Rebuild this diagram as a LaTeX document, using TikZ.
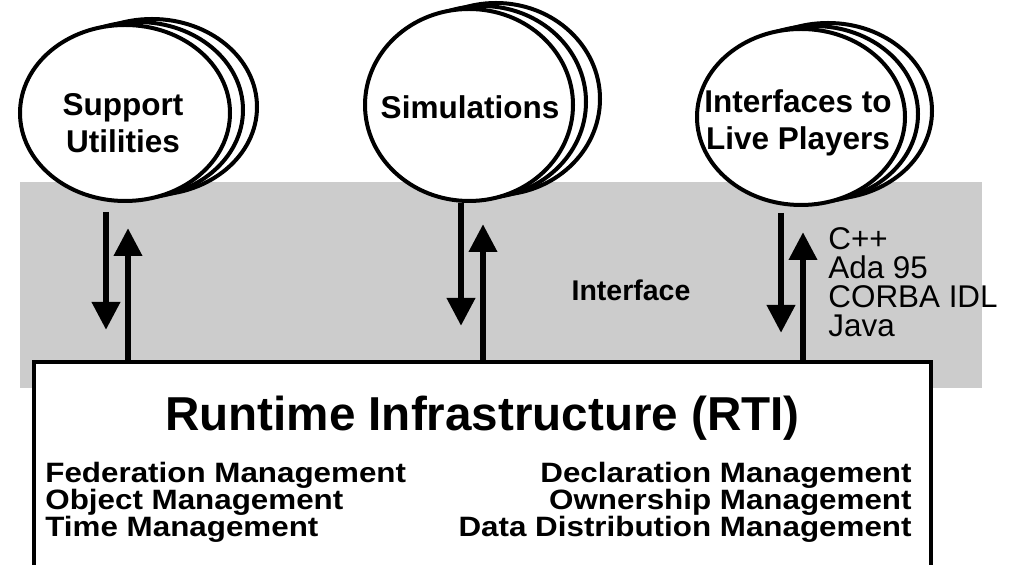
\documentclass[tikz,border=0pt]{standalone}
\usepackage{fontspec}
\setmainfont{Liberation Sans}
\newfontfamily\mgfont[FakeStretch=1.12]{Liberation Sans}
\usetikzlibrary{shapes.geometric,arrows.meta}
\definecolor{band}{HTML}{CCCCCC}

\begin{document}
\begin{tikzpicture}[x=0.5pt,y=-0.5pt,
  fed/.style={ellipse, draw, line width=2pt, fill=white, inner sep=0pt},
  lbl/.style={font=\fontsize{15.75}{18.5}\selectfont\bfseries, align=center, inner sep=0pt},
  flow/.style={line width=3.35pt, -{Triangle[width=13.5pt,length=14pt]}},
  mgmt/.style={font=\mgfont\fontsize{14}{17}\selectfont\bfseries, inner sep=0pt},
  lang/.style={font=\fontsize{15.7}{18}\selectfont, inner sep=0pt, anchor=base west}]
\useasboundingbox (0,0) rectangle (1012,565);
\clip (0,0) rectangle (1012,565);
% interface band
\fill[band] (20,182) rectangle (982,388);
\node[font=\fontsize{14.25}{17}\selectfont\bfseries, inner sep=0pt] (ifc) at (631,290) {Interface};
% federate stacks
\foreach \n/\x/\y/\w/\h in {su/125/113/105/88, sim/469/105/104/96, live/801/117/104/88} {
  \node[fed, minimum width=\w pt, minimum height=\h pt] (\n3) at (\x+27,\y-6) {};
  \node[fed, minimum width=\w pt, minimum height=\h pt] (\n2) at (\x+13,\y-3) {};
  \node[fed, minimum width=\w pt, minimum height=\h pt] (\n) at (\x,\y) {};
}
\node[lbl] (su-t) at (123,123) {Support\\Utilities};
\node[lbl] (sim-t) at (470,107) {Simulations};
\node[lbl] (live-t) at (798,123) {Interfaces to\\Live Players};
% RTI
\node[draw, line width=2pt, fill=white, minimum width=448.5pt, minimum height=130pt,
      anchor=north, inner sep=0pt, outer sep=0pt] (rti) at (482.5,362) {};
\node[font=\fontsize{23.8}{28}\selectfont\bfseries, anchor=base, inner sep=0pt] (ttl) at (482.5,431) {Runtime Infrastructure (RTI)};
\foreach \t [count=\i] in {Federation Management, Object Management, Time Management}
  \node[mgmt, anchor=base west] (mg-l\i) at (45,456+27*\i) {\t};
\foreach \t [count=\i] in {Declaration Management, Ownership Management, Data Distribution Management}
  \node[mgmt, anchor=base east] (mg-r\i) at (912,456+27*\i) {\t};
\foreach \t [count=\i] in {C++, Ada 95, CORBA IDL, Java}
  \node[lang] (lang\i) at (828,221+29*\i) {\t};
% calls in and out
\coordinate (su-dn) at (106,330);   \coordinate (su-up) at (128,228);
\coordinate (sim-dn) at (461,326);  \coordinate (sim-up) at (483,224);
\coordinate (live-dn) at (781,333); \coordinate (live-up) at (803,232);
\draw[flow, shorten <=4.5pt] (su.south -| su-dn) -- (su-dn);
\draw[flow] (sim.south -| sim-dn) -- (sim-dn);
\draw[flow, shorten <=3pt] (live.south -| live-dn) -- (live-dn);
\draw[flow] (rti.north -| su-up) -- (su-up);
\draw[flow] (rti.north -| sim-up) -- (sim-up);
\draw[flow] (rti.north -| live-up) -- (live-up);
\end{tikzpicture}
\end{document}
